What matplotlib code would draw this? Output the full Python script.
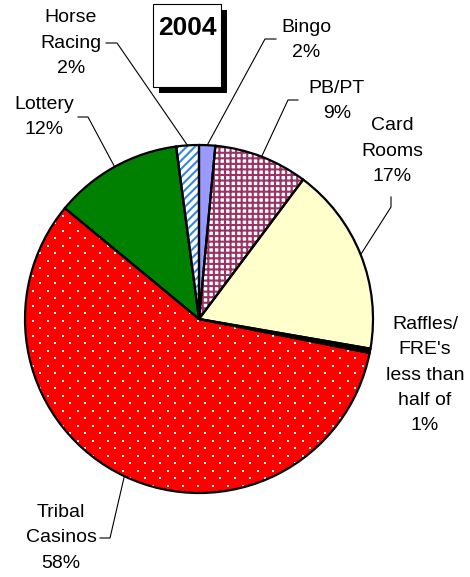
import numpy as np
import matplotlib
matplotlib.use("Agg")
import matplotlib.pyplot as plt
from matplotlib.patches import Rectangle

plt.rcParams['font.family'] = ['Liberation Sans', 'DejaVu Sans']
plt.rcParams['hatch.linewidth'] = 1.5

W, H = 470, 577

# slices, clockwise from 12 o'clock
labels = ["Bingo\n2%", "PB/PT\n9%", "Card\nRooms\n17%",
          "Raffles/\nFRE's\nless than\nhalf of\n1%",
          "Tribal\nCasinos\n58%", "Lottery\n12%", "Horse\nRacing\n2%"]
shares = [1.5, 8.7, 17.5, 0.4, 57.8, 11.9, 2.1]
face_colors = ["#9999FF", "white", "#FFFFCC", "black", "#FF0000", "#008000", "white"]
hatches = [None, "+++", None, None, None, None, "////"]
hatch_colors = [None, "#993366", None, None, None, None, "#3388DD"]
year = "2004"


def px(x, y):
    # image pixel coords (y down) -> axes coords (y up)
    return x, H - y


fig = plt.figure(figsize=(W / 100, H / 100), dpi=100)
ax = fig.add_axes([0, 0, 1, 1])

center = px(199, 319)
radius = 174

wedges, _ = ax.pie(shares, colors=face_colors, startangle=90, counterclock=False,
                   center=center, radius=radius, wedgeprops=dict(linewidth=0))
for w, h, hc in zip(wedges, hatches, hatch_colors):
    if h:
        w.set_hatch(h)
        w.set_edgecolor(hc)

# white dot pattern on the tribal casinos slice
tribal = wedges[4]
gx, gy = [], []
for i, yy in enumerate(np.arange(center[1] - radius, center[1] + radius, 7.5)):
    off = 7.5 if i % 2 else 0.0
    for xx in np.arange(center[0] - radius + off, center[0] + radius, 15):
        gx.append(xx)
        gy.append(yy)
dots = ax.scatter(gx, gy, s=2.2, marker='s', color='white', linewidths=0, zorder=3)
dots.set_clip_path(tribal)

# outlines
outl, _ = ax.pie(shares, colors=['none'] * len(shares), startangle=90, counterclock=False,
                 center=center, radius=radius,
                 wedgeprops=dict(linewidth=1.6, edgecolor='black', fill=False))
for o in outl:
    o.set_zorder(4)

# label positions (text center) and leader elbows, image pixels
label_pos = [(306, 40), (337, 101), (392, 151), (425, 375), (61, 538), (44, 117), (71, 43)]
leaders = [
    [(276, 39), (265, 39)],
    [(298, 100), (288, 100)],
    [(391, 197), (391, 207)],
    None,
    [(100, 538), (110, 538)],
    [(78, 117), (88, 117)],
    [(106, 43), (117, 43)],
]

for w, lab, pos, ld in zip(wedges, labels, label_pos, leaders):
    ax.text(*px(*pos), lab, ha='center', va='center', fontsize=14,
            linespacing=1.62, color='black', zorder=5)
    if ld is None:
        continue
    mid = np.deg2rad((w.theta1 + w.theta2) / 2)
    ex = center[0] + radius * np.cos(mid)
    ey = center[1] + radius * np.sin(mid)
    xs = [px(*p)[0] for p in ld] + [ex]
    ys = [px(*p)[1] for p in ld] + [ey]
    ax.plot(xs, ys, color='black', lw=0.8, zorder=5)

# year box with drop shadow
ax.add_patch(Rectangle(px(159, 93), 68, 83, facecolor='black', edgecolor='none', zorder=6))
ax.add_patch(Rectangle(px(153, 87), 68, 83, facecolor='white', edgecolor='black',
                       lw=0.8, zorder=7))
ax.text(*px(187, 28), year, ha='center', va='center', fontsize=19,
        fontweight='bold', zorder=8)

ax.set_xlim(0, W)
ax.set_ylim(0, H)
ax.set_aspect('equal')
ax.axis('off')

fig.savefig("out.png", dpi=100, facecolor='white')
